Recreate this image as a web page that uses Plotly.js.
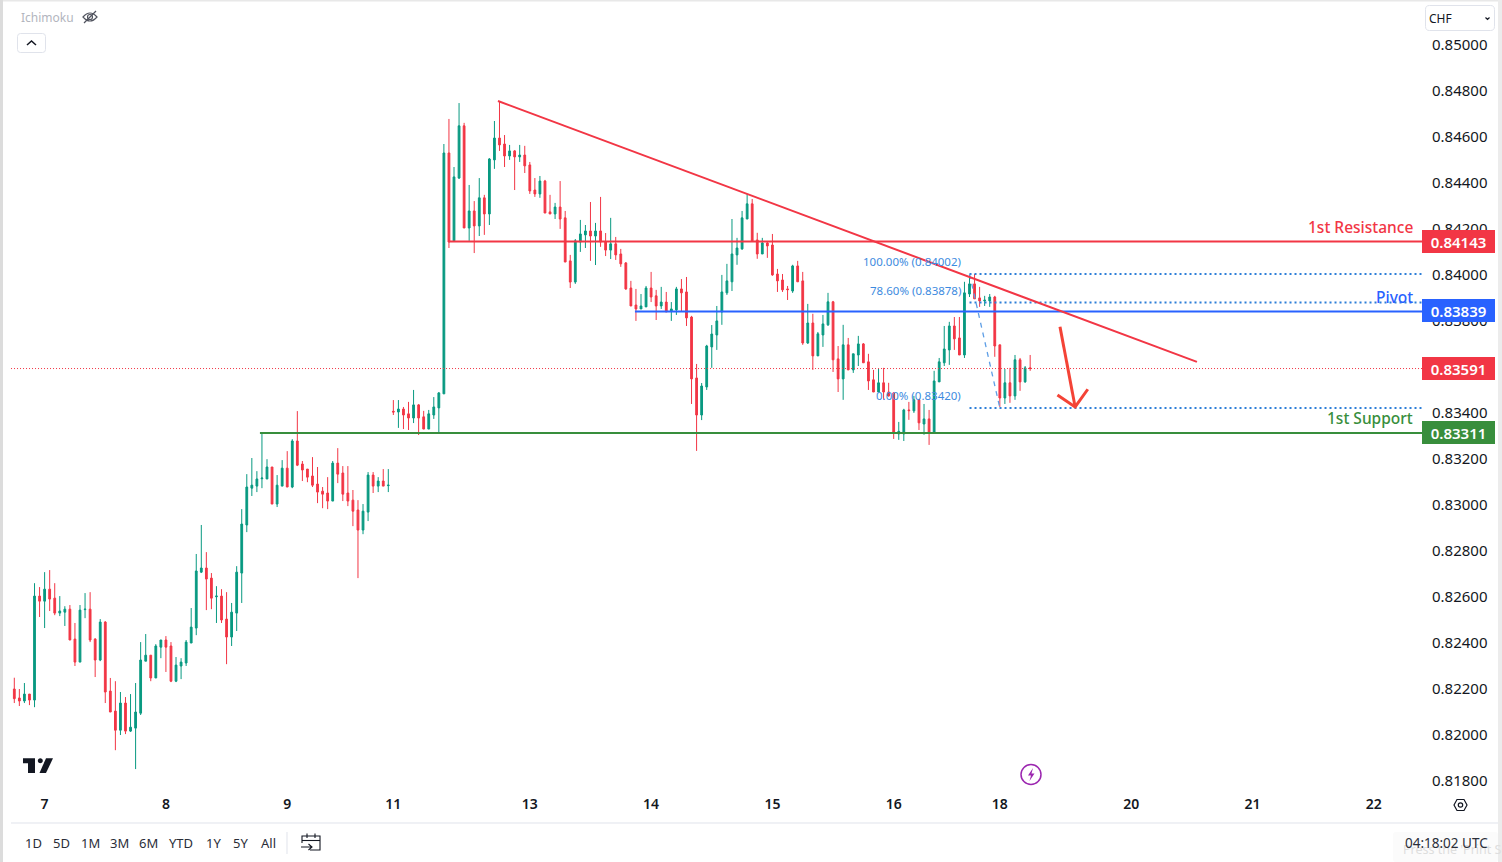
<!DOCTYPE html>
<html><head><meta charset="utf-8">
<script src="https://cdn.plot.ly/plotly-3.0.1.min.js"></script>
<style>html,body{margin:0;padding:0;background:#fff;overflow:hidden}#c{width:1502px;height:862px}</style>
</head><body><div id="c"></div>
<script>
// Hourly candles, values in points (1 point = 0.00001 CHF)
const POINT = 0.00001;
const high = [82247,82198,82224,82176,82658,82641,82706,82715,82658,82602,82558,82563,82485,82563,82615,82619,82419,82502,82493,82246,82232,82185,82163,82176,82224,
82402,82437,82345,82393,82411,82428,82402,82337,82332,82411,82550,82785,82911,82793,82702,82645,82632,82619,82572,82732,82980,83132,83202,83145,83310,
83197,83163,83128,83193,83232,83284,83406,83189,83154,83206,83163,83076,83119,83189,83245,83167,83167,83063,83019,83002,83141,83141,83119,83154,83154,
83454,83454,83424,83446,83498,83437,83407,83411,83467,83489,84567,84676,84467,84745,84659,84389,84319,84419,84346,84506,84667,84754,84606,84563,84541,
84563,84559,84489,84419,84428,84411,84346,84311,84406,84276,84085,84154,84237,84215,84315,84224,84337,84180,84246,84163,84111,84054,83972,83937,83915,
83950,84011,83933,83946,83924,83880,83946,83980,83989,83820,83611,83528,83694,83780,83863,
83998,84046,84241,84159,84276,84350,84328,84181,84159,84141,84176,84024,84002,83950,84042,84059,84011,83872,83829,83750,83824,83920,83885,83689,83781,
83724,83655,83733,83702,83655,83585,83589,83594,83529,83489,83359,83416,83446,83472,83458,83437,83411,83581,83637,83776,83794,83815,83815,83968,83998,
84002,83946,83907,83915,83907,83694,83589,83594,83650,83637,83602,83650];
const low = [82137,82124,82137,82128,82119,82511,82463,82537,82519,82515,82472,82411,82298,82315,82506,82402,82250,82319,82137,82098,81932,81998,82002,82011,81850,
82085,82319,82232,82246,82332,82272,82228,82228,82241,82298,82398,82432,82702,82541,82545,82485,82485,82306,82385,82450,82572,82880,83037,83054,83071,
83111,83002,82989,83080,83076,83071,83167,83102,83097,83076,83006,82984,82980,83015,83093,83015,82993,82906,82680,82871,82928,83050,83054,83080,83054,
83389,83333,83328,83324,83354,83302,83328,83328,83372,83311,83481,84115,84141,84415,84202,84146,84093,84167,84172,84215,84459,84537,84467,84498,84367,
84489,84441,84350,84337,84333,84267,84263,84241,84198,84054,83941,83959,84098,84115,84059,84041,84120,84080,84067,84063,84033,83933,83863,83798,83850,
83859,83880,83802,83850,83837,83798,83824,83841,83776,83437,83233,83367,83498,83594,83672,
83781,83911,83928,84042,84107,84241,84146,84068,84089,84072,83994,83924,83924,83889,83920,83968,83694,83698,83585,83646,83685,83776,83576,83489,83455,
83585,83572,83602,83616,83498,83489,83489,83455,83469,83285,83281,83276,83368,83398,83324,83303,83259,83307,83533,83602,83607,83672,83650,83637,83902,
83894,83859,83863,83859,83642,83424,83437,83442,83455,83494,83529,83581];
const open = [82198,82159,82146,82176,82150,82602,82580,82632,82593,82528,82532,82545,82415,82315,82543,82545,82415,82324,82489,82189,82102,82019,82137,82015,82028,
82093,82319,82345,82246,82380,82411,82385,82232,82298,82311,82398,82463,82706,82724,82680,82599,82602,82502,82424,82528,82702,82911,83071,83080,83112,
83111,83163,83002,83080,83158,83076,83276,83176,83154,83124,83089,83058,83050,83015,83180,83137,83050,83019,82976,82889,82967,83128,83080,83102,83082,
83405,83402,83415,83394,83376,83433,83381,83328,83389,83420,83481,84528,84146,84419,84646,84202,84276,84211,84333,84263,84498,84593,84567,84515,84537,
84511,84519,84476,84367,84350,84406,84272,84263,84293,84246,84059,83967,84141,84172,84189,84167,84189,84141,84106,84133,84089,84050,83941,83867,83850,
83859,83941,83907,83863,83880,83841,83846,83937,83924,83815,83550,83389,83511,83685,83737,
83837,83920,83968,84085,84111,84241,84307,84150,84089,84137,84128,84002,83976,83937,83928,84037,83972,83702,83789,83646,83737,83781,83881,83633,83546,
83694,83585,83650,83698,83620,83542,83489,83529,83489,83485,83307,83307,83411,83407,83455,83350,83372,83311,83533,83616,83672,83776,83724,83650,83915,
83959,83898,83885,83885,83902,83694,83463,83529,83472,83629,83533,83594];
const close = [82156,82146,82176,82150,82602,82580,82632,82589,82528,82537,82545,82411,82315,82541,82545,82411,82324,82489,82185,82098,82019,82137,82015,82032,82098,
82324,82345,82246,82385,82411,82380,82232,82302,82315,82402,82467,82711,82724,82676,82593,82602,82498,82424,82532,82706,82915,83076,83084,83111,83115,
83163,83002,83084,83158,83076,83276,83171,83150,83119,83084,83054,83045,83015,83180,83132,83045,83015,82971,82889,82971,83128,83080,83102,83080,83084,
83402,83415,83389,83376,83433,83376,83328,83394,83424,83485,84528,84141,84424,84646,84202,84276,84211,84333,84263,84502,84593,84563,84515,84537,84511,
84519,84472,84363,84350,84406,84267,84263,84293,84241,84054,83967,84146,84176,84189,84167,84189,84141,84106,84133,84085,84046,83937,83863,83850,83863,
83941,83902,83863,83880,83837,83850,83937,83920,83811,83546,83389,83515,83689,83741,83798,
83924,83972,84089,84115,84246,84307,84146,84089,84137,84124,83998,83972,83933,83934,84037,83968,83702,83789,83646,83742,83785,83881,83629,83546,83694,
83585,83655,83698,83616,83537,83489,83529,83489,83472,83311,83318,83411,83408,83455,83355,83372,83311,83537,83620,83676,83776,83720,83650,83920,83959,
83894,83885,83888,83902,83689,83463,83529,83472,83629,83533,83594,83591];

const dayTicks = [6,30,54,75,102,126,150,174,195,221,245,269];
const dayLabels = ['7','8','9','11','13','14','15','16','18','20','21','22'];
const priceLevels = [0.84143,0.83839,0.83311];
const levelStart = [86,122.8,48.6];
const levelNames = ['1st Resistance','Pivot','1st Support'];
const levelColors = ['#f23645','#2962ff','#388e3c'];
const lastPrice = 0.83591;
const fibLevels = [0.84002,0.83878,0.83420];
const fibLabels = ['100.00% (0.84002)','78.60% (0.83878)','0.00% (0.83420)'];
const trendX = [95.7,234], trendY = [0.84754,0.83620];
const fibDiagX = [189,195], fibDiagY = [0.84002,0.83420];
const arrowShaftX = [206.9,209.9], arrowShaftY = [0.83773,0.83424];
const arrowHeadX = [206.4,209.9,212.4], arrowHeadY = [0.83476,0.83424,0.83501];
const rangeButtons = ['1D','5D','1M','3M','6M','YTD','1Y','5Y','All'];
const rangeButtonX = [33,61,90,119,148,181,213,240,268];

const X_MIN=-2.236, X_MAX=278.53, Y_MIN=0.81759, Y_MAX=0.85193;
const L=3,R=1422,B=790;
const xp=p=>(p-L)/(R-L), yp=p=>1-p/B;
const FONT='"Noto Sans", sans-serif';
const idx=high.map((_,i)=>i);
const pts=a=>a.map(v=>v*POINT);

function line(x,y,color,width,dash){return {type:'scatter',mode:'lines',x,y,hoverinfo:'skip',showlegend:false,
  line:{color,width,dash:dash||'solid'}};}
const traces=[{type:'candlestick',x:idx,open:pts(open),high:pts(high),low:pts(low),close:pts(close),
  whiskerwidth:0,hoverinfo:'skip',showlegend:false,
  increasing:{line:{color:'#089981',width:1},fillcolor:'#089981'},
  decreasing:{line:{color:'#f23645',width:1},fillcolor:'#f23645'}}];
fibLevels.forEach(v=>traces.push(line([189,X_MAX-0.1],[v,v],'#2e7fd8',2,'2px 3px')));
traces.push(line(fibDiagX,fibDiagY,'#5f9fe6',1.3,'5px 5px'));
traces.push(line([-0.65,X_MAX],[lastPrice,lastPrice],'#f23645',1,'1px 2px'));
priceLevels.forEach((v,i)=>traces.push(line([levelStart[i],X_MAX],[v,v],levelColors[i],2)));
traces.push(line(trendX,trendY,'#f23645',2));
traces.push(line(arrowShaftX,arrowShaftY,'#f44336',3));
traces.push(line(arrowHeadX,arrowHeadY,'#f44336',3));

const ann=[];
function txt(text,px,py,anchor,size,color,weight){ann.push({text,xref:'paper',yref:'paper',x:xp(px),y:yp(py),
  xanchor:anchor,yanchor:'middle',showarrow:false,font:{family:FONT,size,color,weight:weight||400}});}
// price tags
[[0.84143,'#f23645'],[0.83839,'#2962ff'],[lastPrice,'#f23645'],[0.83311,'#388e3c']].forEach(([v,c])=>{
  ann.push({text:v.toFixed(5),xref:'paper',yref:'y',x:xp(1422),y:v,yshift:0.5,xanchor:'left',yanchor:'middle',showarrow:false,
    width:73,height:23,bgcolor:c,align:'center',borderpad:0,borderwidth:0,font:{family:FONT,size:15,color:'#fff',weight:600}});
});
levelNames.forEach((t,i)=>ann.push({text:t,xref:'paper',yref:'y',x:xp(1415),y:priceLevels[i],yshift:14.5,
  xanchor:'right',yanchor:'middle',showarrow:false,font:{family:FONT,size:15.5,color:levelColors[i],weight:500}}));
fibLabels.forEach((t,i)=>ann.push({text:t,xref:'x',yref:'y',x:187.8,y:fibLevels[i],yshift:12,
  xanchor:'right',yanchor:'middle',showarrow:false,font:{family:FONT,size:11.5,color:'#3d8be0'}}));
txt('Ichimoku',19,17,'left',12,'#b2b5be');
txt('CHF',1427,18,'left',12,'#131722');
rangeButtons.forEach((t,i)=>txt(t,rangeButtonX[i],843.5,'center',13,'#2a2e39'));
txt("Press the 'Print Scr",1401,849,'left',12.5,'#dedede');
txt('04:18:02 UTC',1490,843,'right',13.5,'#2a2e39');

const sh=[];
function path(d,color,width,fill,layer){
  const s=d.replace(/(-?[\d.]+),(-?[\d.]+)/g,(m,a,b)=>xp(+a).toFixed(5)+','+yp(+b).toFixed(5));
  sh.push({type:'path',xref:'paper',yref:'paper',path:s,line:{color:color||'rgba(0,0,0,0)',width:width||0},fillcolor:fill||'rgba(0,0,0,0)',layer:layer||'above'});
}
function rrect(x0,y0,x1,y1,r){return `M${x0+r},${y0} L${x1-r},${y0} Q${x1},${y0} ${x1},${y0+r} L${x1},${y1-r} Q${x1},${y1} ${x1-r},${y1} L${x0+r},${y1} Q${x0},${y1} ${x0},${y1-r} L${x0},${y0+r} Q${x0},${y0} ${x0+r},${y0} Z`;}
function circ(cx,cy,r){const k=r*0.5523;return `M${cx-r},${cy} C${cx-r},${cy-k} ${cx-k},${cy-r} ${cx},${cy-r} C${cx+k},${cy-r} ${cx+r},${cy-k} ${cx+r},${cy} C${cx+r},${cy+k} ${cx+k},${cy+r} ${cx},${cy+r} C${cx-k},${cy+r} ${cx-r},${cy+k} ${cx-r},${cy} Z`;}
// page frame
path('M0,0 L3,0 L3,862 L0,862 Z',null,0,'#dcdcdc');
path('M3,0 L1502,0 L1502,1.5 L3,1.5 Z',null,0,'#e8e8e8');
path('M1498,0 L1502,0 L1502,862 L1498,862 Z',null,0,'#ececec');
path('M11,823 L1498,823',"#e0e3eb",1);
path('M287,832 L287,854',"#e0e3eb",1);
path(rrect(1393,832,1498,862,3),null,0,'#fbfbfb','below');
// collapse button
path(rrect(17.5,33.5,45.5,52.5,3),'#e0e3eb',1);
path('M27,45 L31.5,41 L36,45','#131722',1.5);
// eye-slash
path('M83,17 Q90,9 97,17 Q90,25 83,17 Z','#50535e',1.2);
path(circ(90,17,2.5),'#50535e',1.2);
path('M84,23 L96,11','#50535e',1.2);
// CHF selector
path(rrect(1425.5,5.5,1494.5,30.5,4),'#e0e3eb',1);
path('M1485.5,17.5 L1487.5,19.5 L1489.5,17.5','#131722',1.2);
// logo
path('M23,758.3 L35,758.3 L35,773 L28,773 L28,763.3 L23,763.3 Z',null,0,'#131722');
path(circ(40.3,760.7,2.5),null,0,'#131722');
path('M46,758.3 L53,758.3 L46,773 L39.5,773 Z',null,0,'#131722');
// lightning badge
path(circ(1031,774.5,10),'#9c27b0',1.5);
path('M1033,768 L1028,775.5 L1031,775.5 L1029.5,781 L1034.5,773.5 L1031.5,773.5 Z',null,0,'#9c27b0');
// settings hexagon
path('M1454,805 L1457,799.5 L1464,799.5 L1467,805 L1464,810.5 L1457,810.5 Z','#131722',1.2);
path(circ(1460.5,805,2.2),'#131722',1.2);
// calendar
path('M302,843 L302,836 L320,836 L320,850 L310,850','#131722',1.1);
path('M302,840.5 L320,840.5','#131722',1.1);
path('M307,833.5 L307,838 M315,833.5 L315,838','#131722',1.1);
path('M301,847 L312,847 M308.5,844 L312,847 L308.5,850','#131722',1.1);

Plotly.newPlot('c',traces,{
  width:1502,height:862,autosize:false,
  margin:{l:L,r:1502-R,t:0,b:862-B,pad:0},
  paper_bgcolor:'#fff',plot_bgcolor:'#fff',showlegend:false,hovermode:false,dragmode:false,
  boxgap:0.5,
  xaxis:{type:'linear',range:[X_MIN,X_MAX],rangeslider:{visible:false},showgrid:false,zeroline:false,showline:false,
    tickmode:'array',tickvals:dayTicks,ticktext:dayLabels,ticks:'outside',ticklen:1,tickcolor:'rgba(0,0,0,0)',
    tickfont:{family:FONT,size:14,color:'#131722',weight:600}},
  yaxis:{type:'linear',side:'right',range:[Y_MIN,Y_MAX],showgrid:false,zeroline:false,showline:false,
    tick0:0.8,dtick:0.002,tickformat:'.5f',ticks:'outside',ticklen:6,tickcolor:'rgba(0,0,0,0)',
    tickfont:{family:FONT,size:15,color:'#131722'}},
  annotations:ann,shapes:sh
},{displayModeBar:false,staticPlot:true});
</script></body></html>
